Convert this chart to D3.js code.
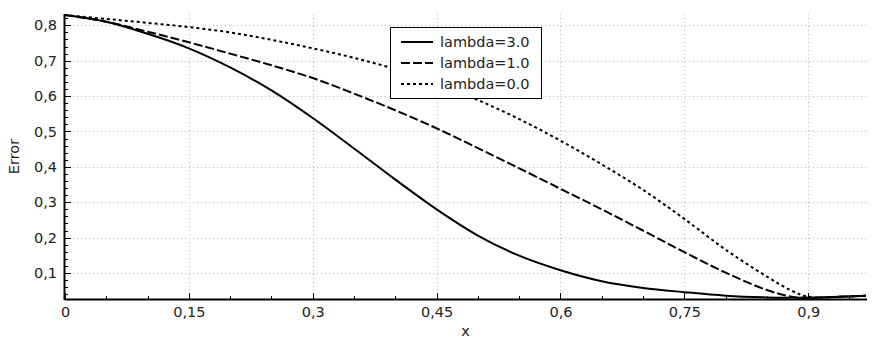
<!DOCTYPE html>
<html>
<head>
<meta charset="utf-8">
<script src="https://cdn.jsdelivr.net/npm/d3@7/dist/d3.min.js"></script>
<style>
  html, body { margin: 0; padding: 0; background: #fff; }
  svg { display: block; font-family: "DejaVu Sans", sans-serif; }
</style>
</head>
<body>
<svg id="chart" width="882" height="347"></svg>
<script>
// ---- data ----
const xValues = [0, 0.05, 0.1, 0.15, 0.2, 0.25, 0.3, 0.35, 0.4, 0.45, 0.5, 0.55, 0.6, 0.65, 0.7, 0.75, 0.8, 0.85, 0.88, 0.9, 0.95, 0.97];
const lambda3 = [0.829, 0.810, 0.776, 0.735, 0.681, 0.616, 0.538, 0.452, 0.364, 0.280, 0.206, 0.149, 0.108, 0.077, 0.058, 0.046, 0.036, 0.031, 0.030, 0.030, 0.034, 0.036];
const lambda1 = [0.829, 0.810, 0.782, 0.752, 0.720, 0.687, 0.651, 0.607, 0.560, 0.509, 0.453, 0.396, 0.338, 0.280, 0.220, 0.159, 0.101, 0.052, 0.033, 0.030, 0.034, 0.036];
const lambda0 = [0.829, 0.818, 0.807, 0.795, 0.780, 0.759, 0.735, 0.708, 0.676, 0.636, 0.589, 0.535, 0.474, 0.407, 0.335, 0.253, 0.166, 0.090, 0.050, 0.033, 0.034, 0.036];
const seriesNames = ["lambda=3.0", "lambda=1.0", "lambda=0.0"];
const xTicks = [0, 0.15, 0.3, 0.45, 0.6, 0.75, 0.9];
const yTicks = [0.1, 0.2, 0.3, 0.4, 0.5, 0.6, 0.7, 0.8];
const xDomain = [0, 0.97];
const yDomain = [0.0266, 0.832];

// ---- layout ----
const W = 882, H = 347;
const margin = { left: 65, top: 14, right: 16, bottom: 48 };
const iw = W - margin.left - margin.right;
const ih = H - margin.top - margin.bottom;

const svg = d3.select("#chart");
const x = d3.scaleLinear().domain(xDomain).range([margin.left, margin.left + iw]);
const y = d3.scaleLinear().domain(yDomain).range([margin.top + ih, margin.top]);
const fmt = v => d3.format("~g")(+v.toFixed(2)).replace(".", ",");

const textColor = "#222";
const fontSize = 14.5;

// grid
const grid = svg.append("g").attr("stroke", "#b8b8b8").attr("stroke-width", 1).attr("stroke-dasharray", "1,3");
grid.selectAll("line.h").data(yTicks).join("line")
  .attr("x1", margin.left).attr("x2", margin.left + iw)
  .attr("y1", d => Math.round(y(d)) + 0.5).attr("y2", d => Math.round(y(d)) + 0.5);
grid.selectAll("line.v").data(xTicks.filter(d => d > 0)).join("line")
  .attr("y1", margin.top).attr("y2", margin.top + ih)
  .attr("x1", d => Math.round(x(d)) + 0.5).attr("x2", d => Math.round(x(d)) + 0.5);

// clip
svg.append("clipPath").attr("id", "clip").append("rect")
  .attr("x", margin.left).attr("y", margin.top - 2).attr("width", iw + 1).attr("height", ih + 2);

// lines
const rows = xValues.map((xv, i) => ({ x: xv, s: [lambda3[i], lambda1[i], lambda0[i]] }));
const dashes = [null, "9,3", "3,3"];
const lineGen = k => d3.line().x(d => x(d.x)).y(d => y(d.s[k])).curve(d3.curveCatmullRom.alpha(0.5));
const lg = svg.append("g").attr("clip-path", "url(#clip)");
[2, 1, 0].forEach(k => {
  lg.append("path").datum(rows)
    .attr("d", lineGen(k))
    .attr("fill", "none").attr("stroke", "#000").attr("stroke-width", 2)
    .attr("stroke-dasharray", dashes[k]);
});

// axes
const xAxis = d3.axisBottom(x).tickValues(xTicks).tickFormat(fmt).tickSize(0).tickPadding(8);
const gx = svg.append("g").attr("transform", `translate(0,${margin.top + ih})`).call(xAxis);
gx.select(".domain").remove();
gx.selectAll("text").attr("font-size", fontSize).attr("fill", textColor).attr("font-family", "DejaVu Sans");

const yAxis = d3.axisLeft(y).tickValues(yTicks).tickFormat(fmt).tickSize(0).tickPadding(8);
const gy = svg.append("g").attr("transform", `translate(${margin.left},0)`).call(yAxis);
gy.select(".domain").remove();
gy.selectAll("text").attr("font-size", fontSize).attr("fill", textColor).attr("font-family", "DejaVu Sans");

// inward tick marks
const ticks = svg.append("g").attr("stroke", "#000").attr("stroke-width", 1);
const xMinor = d3.range(0.05, 0.97, 0.05).filter(v => !xTicks.some(t => Math.abs(t - v) < 1e-6));
ticks.selectAll("line.xM").data(xTicks).join("line")
  .attr("x1", d => Math.round(x(d)) + 0.5).attr("x2", d => Math.round(x(d)) + 0.5)
  .attr("y1", margin.top + ih).attr("y2", margin.top + ih - 6);
ticks.selectAll("line.xm").data(xMinor).join("line")
  .attr("x1", d => Math.round(x(d)) + 0.5).attr("x2", d => Math.round(x(d)) + 0.5)
  .attr("y1", margin.top + ih).attr("y2", margin.top + ih - 3);
const yMinor = d3.range(0.04, 0.832, 0.02).filter(v => !yTicks.some(t => Math.abs(t - v) < 1e-6));
ticks.selectAll("line.yM").data(yTicks).join("line")
  .attr("y1", d => Math.round(y(d)) + 0.5).attr("y2", d => Math.round(y(d)) + 0.5)
  .attr("x1", margin.left).attr("x2", margin.left + 6);
ticks.selectAll("line.ym").data(yMinor).join("line")
  .attr("y1", d => Math.round(y(d)) + 0.5).attr("y2", d => Math.round(y(d)) + 0.5)
  .attr("x1", margin.left).attr("x2", margin.left + 3);

// axis lines
svg.append("line").attr("x1", margin.left).attr("x2", margin.left + iw + 1)
  .attr("y1", margin.top + ih + 0.5).attr("y2", margin.top + ih + 0.5)
  .attr("stroke", "#000").attr("stroke-width", 2);
svg.append("line").attr("x1", margin.left - 0.5).attr("x2", margin.left - 0.5)
  .attr("y1", margin.top).attr("y2", margin.top + ih + 1)
  .attr("stroke", "#000").attr("stroke-width", 2);

// axis titles
svg.append("text").attr("x", margin.left + iw / 2).attr("y", 336)
  .attr("text-anchor", "middle").attr("font-size", fontSize).attr("fill", textColor).text("x");
svg.append("text").attr("transform", `translate(19,${margin.top + ih / 2}) rotate(-90)`)
  .attr("text-anchor", "middle").attr("font-size", fontSize).attr("fill", textColor).text("Error");

// legend
const leg = svg.append("g");
leg.append("rect").attr("x", 390.5).attr("y", 27.5).attr("width", 151).attr("height", 71)
  .attr("fill", "#fff").attr("stroke", "#000").attr("stroke-width", 1);
const legY = [42, 63, 84];
seriesNames.forEach((name, k) => {
  leg.append("line").attr("x1", 401).attr("x2", 433).attr("y1", legY[k]).attr("y2", legY[k])
    .attr("stroke", "#000").attr("stroke-width", 2).attr("stroke-dasharray", dashes[k]);
  leg.append("text").attr("x", 440).attr("y", legY[k]).attr("dy", "0.35em")
    .attr("font-size", fontSize).attr("fill", textColor).text(name);
});
</script>
</body>
</html>
